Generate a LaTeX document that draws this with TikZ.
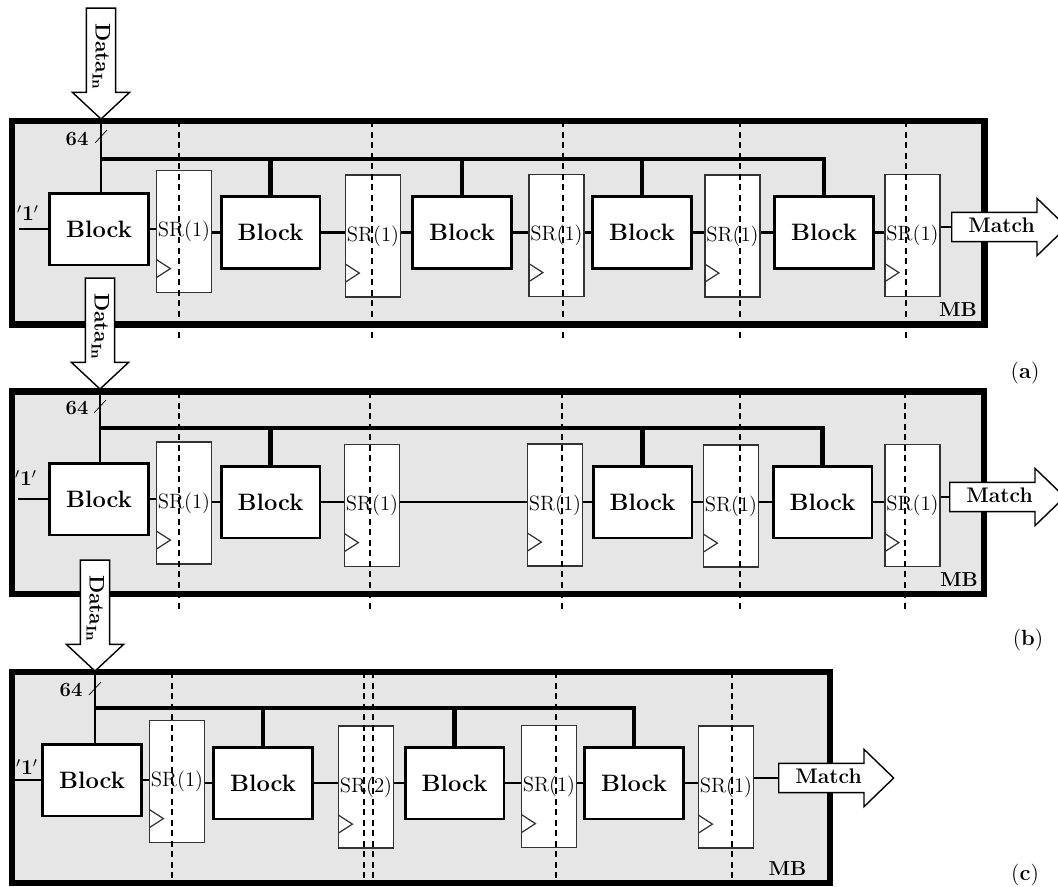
\documentclass[tikz,border=0pt]{standalone}
\usepackage{amsmath,amssymb}
\usepackage{tikz}
\usetikzlibrary{shapes.arrows,calc}
\definecolor{panel}{HTML}{E6E6E6}
\definecolor{srline}{HTML}{333333}
\tikzset{
  blk/.style={draw,line width=1.7pt,fill=white,minimum width=1.98cm,
    minimum height=1.44cm,inner sep=0pt,font=\fontsize{13.5}{15}\selectfont\bfseries},
  srbox/.style={draw=srline,line width=0.8pt,fill=white,minimum width=1.1cm,
    minimum height=2.44cm,inner sep=0pt,font=\fontsize{11.8}{13}\selectfont,
    path picture={\draw[line width=0.7pt]
      ([yshift=8.5pt]path picture bounding box.south west) --
      ([xshift=7.9pt,yshift=13.6pt]path picture bounding box.south west) --
      ([yshift=18.7pt]path picture bounding box.south west);}},
  mbbox/.style={draw,line width=3.7pt,fill=panel,inner sep=0pt},
  link/.style={line width=1.6pt},
  bus/.style={line width=2.3pt},
  cutline/.style={line width=0.6pt,dash pattern=on 3.5pt off 2.5pt},
  lbl/.style={inner sep=0pt,font=\fontsize{11.5}{13}\selectfont\bfseries},
  bigarrow/.style={single arrow,draw,fill=white,line width=0.8pt,
    single arrow head extend=0.28cm,text height=8.5pt,text depth=2.5pt,
    inner ysep=2.45pt,inner xsep=2pt,font=\fontsize{12}{13}\selectfont\bfseries},
  dataarrow/.style={bigarrow,rotate=-90,single arrow tip angle=94,minimum height=2.22cm},
  matcharrow/.style={bigarrow,single arrow tip angle=88,minimum height=2.3cm}
}
\begin{document}
\begin{tikzpicture}[x=0.02cm,y=-0.02cm]
  \useasboundingbox (0,0) rectangle (1058,886);

  \node[mbbox,minimum width=19.45cm,minimum height=4.07cm] (mba) at (498.25,222.75) {};
  \node[blk] (blka1) at (99,229) {Block};
  \node[srbox] (sra1) at (184,231.5) {SR(1)};
  \node[blk] (blka2) at (270.5,232.5) {Block};
  \node[srbox] (sra2) at (373,236) {SR(1)};
  \node[blk] (blka3) at (462,232.5) {Block};
  \node[srbox] (sra3) at (556.5,235.5) {SR(1)};
  \node[blk] (blka4) at (642,232.5) {Block};
  \node[srbox] (sra4) at (732.5,236) {SR(1)};
  \node[blk] (blka5) at (824,232.5) {Block};
  \node[srbox] (sra5) at (912.5,235.5) {SR(1)};
  \node[dataarrow,anchor=tip] (dina) at (101,120) {Data\textsubscript{In}};
  \node[matcharrow,anchor=west] (mata) at (951,227) {Match};
  \path (dina.tip) ++(0,39) coordinate (busa);
  \coordinate (onea) at (19,229);
  \draw[link] (dina.tip) -- (dina.tip |- blka1.north);
  \draw[thin] (dina.tip) ++(-6,23) -- ++(12,-13);
  \draw[bus] (busa) -| (blka5.north);
  \draw[bus] (blka2.north) -- (blka2.north |- busa);
  \draw[bus] (blka3.north) -- (blka3.north |- busa);
  \draw[bus] (blka4.north) -- (blka4.north |- busa);
  \draw[link] (onea) -- (blka1.west);
  \draw[link] (blka1.east) -- (blka1.east -| sra1.west);
  \draw[link] (blka2.west -| sra1.east) -- (blka2.west);
  \draw[link] (blka2.east) -- (blka2.east -| sra2.west);
  \draw[link] (blka3.west -| sra2.east) -- (blka3.west);
  \draw[link] (blka3.east) -- (blka3.east -| sra3.west);
  \draw[link] (blka4.west -| sra3.east) -- (blka4.west);
  \draw[link] (blka4.east) -- (blka4.east -| sra4.west);
  \draw[link] (blka5.west -| sra4.east) -- (blka5.west);
  \draw[link] (blka5.east) -- (blka5.east -| sra5.west);
  \draw[link] (mata.west -| sra5.east) -- (mata.west);
  \draw[cutline] (179,121) -- (179,340) (372,121) -- (372,340) (563,121) -- (563,340)
    (740,121) -- (740,340) (906,121) -- (906,340);
  \node[lbl] at (77,139) {64};
  \node[lbl] at (28,213) {$'\mathbf{1}'$};
  \node[lbl] at (958,310) {MB};
  \node[font=\fontsize{12.5}{14}\selectfont] at (1025,373) {(\textbf{a})};

  \node[mbbox,minimum width=19.44cm,minimum height=4.05cm] (mbb) at (498,492.75) {};
  \node[blk] (blkb1) at (99,499) {Block};
  \node[srbox] (srb1) at (184,503) {SR(1)};
  \node[blk] (blkb2) at (270.5,502) {Block};
  \node[srbox] (srb2) at (372,505.5) {SR(1)};
  \node[srbox] (srb3) at (555,505) {SR(1)};
  \node[blk] (blkb3) at (642.5,502) {Block};
  \node[srbox] (srb4) at (731,506) {SR(1)};
  \node[blk] (blkb4) at (822.5,502) {Block};
  \node[srbox] (srb5) at (912.5,505.5) {SR(1)};
  \node[dataarrow,anchor=tip] (dinb) at (100,390) {Data\textsubscript{In}};
  \node[matcharrow,anchor=west] (matb) at (949,497) {Match};
  \path (dinb.tip) ++(0,38) coordinate (busb);
  \coordinate (oneb) at (18,499);
  \draw[link] (dinb.tip) -- (dinb.tip |- blkb1.north);
  \draw[thin] (dinb.tip) ++(-6,23) -- ++(12,-13);
  \draw[bus] (busb) -| (blkb4.north);
  \draw[bus] (blkb2.north) -- (blkb2.north |- busb);
  \draw[bus] (blkb3.north) -- (blkb3.north |- busb);
  \draw[link] (oneb) -- (blkb1.west);
  \draw[link] (blkb1.east) -- (blkb1.east -| srb1.west);
  \draw[link] (blkb2.west -| srb1.east) -- (blkb2.west);
  \draw[link] (blkb2.east) -- (blkb2.east -| srb2.west);
  \draw[link] (blkb2.east -| srb2.east) -- (blkb2.east -| srb3.west);
  \draw[link] (blkb3.west -| srb3.east) -- (blkb3.west);
  \draw[link] (blkb3.east) -- (blkb3.east -| srb4.west);
  \draw[link] (blkb4.west -| srb4.east) -- (blkb4.west);
  \draw[link] (blkb4.east) -- (blkb4.east -| srb5.west);
  \draw[link] (matb.west -| srb5.east) -- (matb.west);
  \draw[cutline] (179,392) -- (179,609) (370,392) -- (370,609) (562,392) -- (562,609)
    (740,392) -- (740,609) (905,392) -- (905,609);
  \node[lbl] at (77,408) {64};
  \node[lbl] at (26,478) {$'\mathbf{1}'$};
  \node[lbl] at (959,579.5) {MB};
  \node[font=\fontsize{12.5}{14}\selectfont] at (1028,640) {(\textbf{b})};

  \node[mbbox,minimum width=16.36cm,minimum height=4.22cm] (mbc) at (421,777.5) {};
  \node[blk] (blkc1) at (92,780) {Block};
  \node[srbox] (src1) at (177,781.5) {SR(1)};
  \node[blk] (blkc2) at (263,783) {Block};
  \node[srbox] (src2) at (366,787) {SR(2)};
  \node[blk] (blkc3) at (454.5,783) {Block};
  \node[srbox] (src3) at (549,786.5) {SR(1)};
  \node[blk] (blkc4) at (634,783) {Block};
  \node[srbox] (src4) at (726,787) {SR(1)};
  \node[dataarrow,anchor=tip] (dinc) at (95,672) {Data\textsubscript{In}};
  \node[matcharrow,anchor=west] (matc) at (778,778) {Match};
  \path (dinc.tip) ++(0,36) coordinate (busc);
  \coordinate (onec) at (14,780);
  \draw[link] (dinc.tip) -- (dinc.tip |- blkc1.north);
  \draw[thin] (dinc.tip) ++(-6,23) -- ++(12,-13);
  \draw[bus] (busc) -| (blkc4.north);
  \draw[bus] (blkc2.north) -- (blkc2.north |- busc);
  \draw[bus] (blkc3.north) -- (blkc3.north |- busc);
  \draw[link] (onec) -- (blkc1.west);
  \draw[link] (blkc1.east) -- (blkc1.east -| src1.west);
  \draw[link] (blkc2.west -| src1.east) -- (blkc2.west);
  \draw[link] (blkc2.east) -- (blkc2.east -| src2.west);
  \draw[link] (blkc3.west -| src2.east) -- (blkc3.west);
  \draw[link] (blkc3.east) -- (blkc3.east -| src3.west);
  \draw[link] (blkc4.west -| src3.east) -- (blkc4.west);
  \draw[link] (blkc4.east) -- (blkc4.east -| src4.west);
  \draw[link] (matc.west -| src4.east) -- (matc.west);
  \draw[cutline] (172,672) -- (172,886) (364,672) -- (364,886) (373,672) -- (373,886)
    (556,672) -- (556,886) (732,672) -- (732,886);
  \node[lbl] at (71,690) {64};
  \node[lbl] at (27,767) {$'\mathbf{1}'$};
  \node[lbl] at (787.5,869) {MB};
  \node[font=\fontsize{12.5}{14}\selectfont] at (1025,875) {(\textbf{c})};
\end{tikzpicture}
\end{document}
